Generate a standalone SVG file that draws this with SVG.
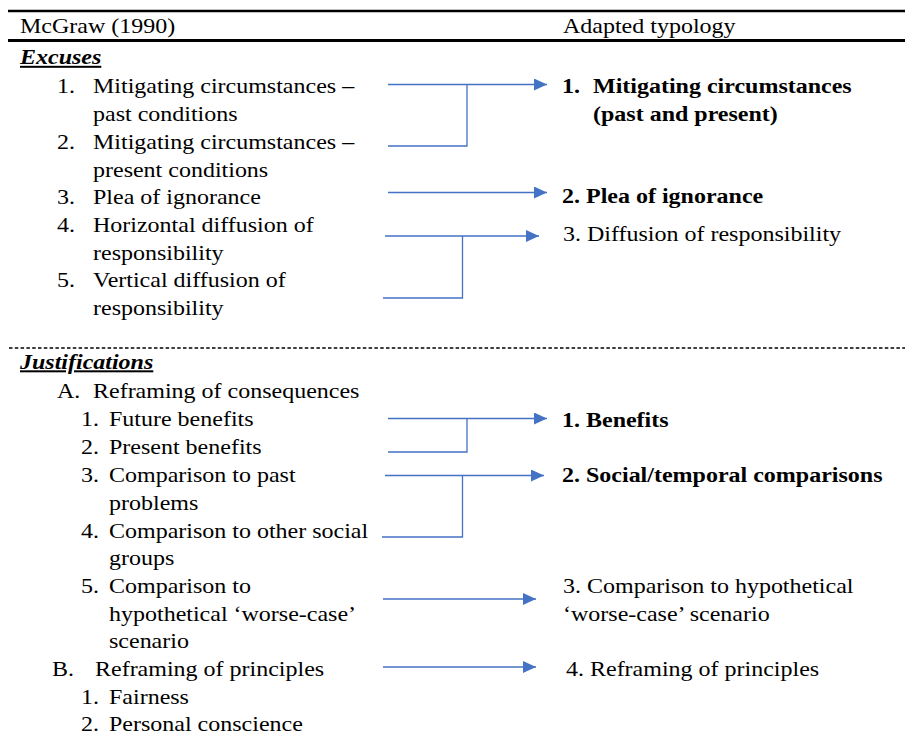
<svg xmlns="http://www.w3.org/2000/svg" width="905" height="734" viewBox="0 0 905 734">
<style>
text{font-family:"Liberation Serif","Times New Roman",serif;font-size:20px;fill:#000}
.b{font-weight:bold}
.h{font-weight:bold;font-style:italic;text-decoration:underline}
.rule{stroke:#000;fill:none}
.c{stroke:#4472C4;stroke-width:1.3;fill:none}
.a{stroke:#4472C4;stroke-width:1.3;fill:none;marker-end:url(#arr)}
</style>
<defs>
<marker id="arr" markerUnits="userSpaceOnUse" markerWidth="13" markerHeight="12" refX="13" refY="6" orient="auto">
<path d="M0,0 L13,6 L0,12 z" fill="#4472C4"/>
</marker>
</defs>
<rect width="905" height="734" fill="#fff"/>
<g id="rules">
<line class="rule" x1="8" y1="11" x2="905" y2="11" stroke-width="2.5"/>
<line class="rule" x1="8" y1="40.5" x2="905" y2="40.5" stroke-width="3"/>
<line class="rule" x1="9" y1="348" x2="905" y2="348" stroke-width="1.3" stroke-dasharray="3.5 2.3"/>
</g>
<g id="header">
<text transform="translate(20,33) scale(1.2,1)">McGraw (1990)</text>
<text transform="translate(563,33) scale(1.2,1)">Adapted typology</text>
</g>
<g id="excuses-title"><text class="h" transform="translate(20,64) scale(1.2,1)">Excuses</text></g>
<g id="ex1">
<text transform="translate(57,93) scale(1.2,1)">1.</text>
<text transform="translate(93,93) scale(1.2,1)">Mitigating circumstances –</text>
<text transform="translate(93,121) scale(1.2,1)">past conditions</text>
</g>
<g id="ex2">
<text transform="translate(57,149) scale(1.2,1)">2.</text>
<text transform="translate(93,149) scale(1.2,1)">Mitigating circumstances –</text>
<text transform="translate(93,176.5) scale(1.2,1)">present conditions</text>
</g>
<g id="ex3">
<text transform="translate(57,204) scale(1.2,1)">3.</text>
<text transform="translate(93,204) scale(1.2,1)">Plea of ignorance</text>
</g>
<g id="ex4">
<text transform="translate(57,232) scale(1.2,1)">4.</text>
<text transform="translate(93,232) scale(1.2,1)">Horizontal diffusion of</text>
<text transform="translate(93,259.5) scale(1.2,1)">responsibility</text>
</g>
<g id="ex5">
<text transform="translate(57,287) scale(1.2,1)">5.</text>
<text transform="translate(93,287) scale(1.2,1)">Vertical diffusion of</text>
<text transform="translate(93,315) scale(1.2,1)">responsibility</text>
</g>
<g id="rx1">
<text class="b" transform="translate(562,93) scale(1.2,1)">1.</text>
<text class="b" transform="translate(593,93) scale(1.2,1)">Mitigating circumstances</text>
<text class="b" transform="translate(593,121) scale(1.2,1)">(past and present)</text>
</g>
<g id="rx2"><text class="b" transform="translate(562,203) scale(1.2,1)">2. Plea of ignorance</text></g>
<g id="rx3"><text transform="translate(563,240.5) scale(1.2,1)">3. Diffusion of responsibility</text></g>
<g id="justifications-title"><text class="h" transform="translate(20,368.5) scale(1.2,1)">Justifications</text></g>
<g id="jA">
<text transform="translate(57,398) scale(1.2,1)">A.</text>
<text transform="translate(93,398) scale(1.2,1)">Reframing of consequences</text>
</g>
<g id="jA1">
<text transform="translate(81,426) scale(1.2,1)">1.</text>
<text transform="translate(109,426) scale(1.2,1)">Future benefits</text>
</g>
<g id="jA2">
<text transform="translate(81,454) scale(1.2,1)">2.</text>
<text transform="translate(109,454) scale(1.2,1)">Present benefits</text>
</g>
<g id="jA3">
<text transform="translate(81,482) scale(1.2,1)">3.</text>
<text transform="translate(109,482) scale(1.2,1)">Comparison to past</text>
<text transform="translate(109,510) scale(1.2,1)">problems</text>
</g>
<g id="jA4">
<text transform="translate(81,537.5) scale(1.2,1)">4.</text>
<text transform="translate(109,537.5) scale(1.2,1)">Comparison to other social</text>
<text transform="translate(109,565) scale(1.2,1)">groups</text>
</g>
<g id="jA5">
<text transform="translate(81,593) scale(1.2,1)">5.</text>
<text transform="translate(109,593) scale(1.2,1)">Comparison to</text>
<text transform="translate(109,620.5) scale(1.2,1)">hypothetical ‘worse-case’</text>
<text transform="translate(109,648) scale(1.2,1)">scenario</text>
</g>
<g id="jB">
<text transform="translate(52,676) scale(1.2,1)">B.</text>
<text transform="translate(95,676) scale(1.2,1)">Reframing of principles</text>
</g>
<g id="jB1">
<text transform="translate(81,703.5) scale(1.2,1)">1.</text>
<text transform="translate(109,703.5) scale(1.2,1)">Fairness</text>
</g>
<g id="jB2">
<text transform="translate(81,731) scale(1.2,1)">2.</text>
<text transform="translate(109,731) scale(1.2,1)">Personal conscience</text>
</g>
<g id="ry1"><text class="b" transform="translate(562,426.5) scale(1.2,1)">1. Benefits</text></g>
<g id="ry2"><text class="b" transform="translate(562,482) scale(1.2,1)">2. Social/temporal comparisons</text></g>
<g id="ry3">
<text transform="translate(563,593) scale(1.2,1)">3. Comparison to hypothetical</text>
<text transform="translate(563,620.5) scale(1.2,1)">‘worse-case’ scenario</text>
</g>
<g id="ry4"><text transform="translate(566,676) scale(1.2,1)">4. Reframing of principles</text></g>
<g id="connectors">
<path class="a" d="M388,84.5 H547"/>
<path class="c" d="M388,146 H467 V84.5"/>
<path class="a" d="M388,192.5 H547"/>
<path class="a" d="M385,236 H539"/>
<path class="c" d="M383,298 H462.5 V236"/>
<path class="a" d="M388,418.5 H547"/>
<path class="c" d="M388,452 H467 V418.5"/>
<path class="a" d="M385,475.5 H544"/>
<path class="c" d="M382,537 H462.5 V475.5"/>
<path class="a" d="M383,599 H536"/>
<path class="a" d="M383,667 H536"/>
</g>
</svg>
